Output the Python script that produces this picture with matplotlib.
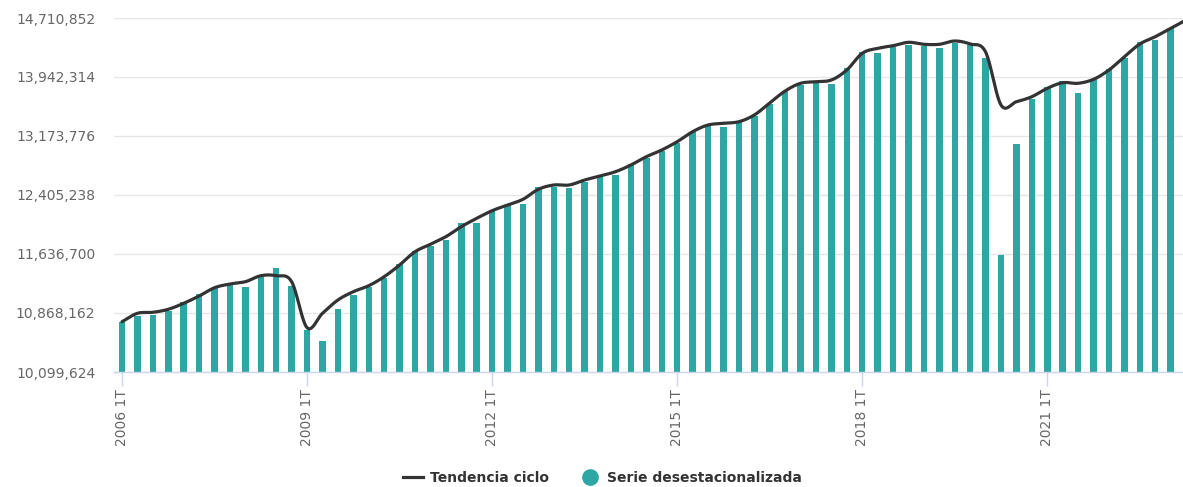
import numpy as np
import matplotlib
matplotlib.use("Agg")
import matplotlib.pyplot as plt
from matplotlib.lines import Line2D
from matplotlib.ticker import FixedLocator, FuncFormatter

# Categories: quarters 2006 1T .. 2023 1T
quarters = [f"{y} {q}T" for y in range(2006, 2024) for q in range(1, 5)][:69]

# Serie desestacionalizada (bars)
serie = [
    10755000, 10829000, 10842000, 10898000, 11007500, 11112000, 11197700, 11242000,
    11210750, 11333200, 11450400, 11223800, 10653200, 10499500, 10913800, 11102600,
    11210750, 11328000, 11502500, 11675800, 11744800, 11819000, 12044400, 12044400,
    12209850, 12275000, 12288000, 12505500, 12513400, 12492500, 12578500, 12635800,
    12665800, 12805100, 12891100, 12982300, 13086500, 13222000, 13317000, 13294900,
    13360000, 13434300, 13591600, 13763900, 13834200, 13860300, 13851100, 14055700,
    14264100, 14251000, 14337000, 14359200, 14350000, 14324000, 14381300, 14355300,
    14196300, 11623700, 13069600, 13655700, 13808200, 13890200, 13730000, 13916300,
    14042600, 14193700, 14402100, 14424300, 14576700,
]

# Tendencia ciclo (line)
tendencia = [
    10754800, 10864300, 10877300, 10916400, 10994500, 11089600, 11197700, 11245900,
    11275900, 11354000, 11354000, 11275900, 10676700, 10864300, 11037500, 11145600,
    11223800, 11341000, 11493400, 11666700, 11763100, 11862100, 11992300, 12101700,
    12200700, 12275000, 12349200, 12479500, 12535500, 12535500, 12600600, 12652700,
    12708800, 12796000, 12904100, 12991400, 13099500, 13229800, 13317000, 13339200,
    13360000, 13447300, 13603600, 13760000, 13860300, 13881100, 13903200, 14033500,
    14251000, 14316200, 14350000, 14394300, 14368300, 14368300, 14411300, 14372200,
    14268000, 13577600, 13620600, 13685700, 13795100, 13868100, 13860300, 13912400,
    14033500, 14206800, 14372200, 14467300, 14576700, 14684800,
]

y_ticks = [10099624, 10868162, 11636700, 12405238, 13173776, 13942314, 14710852]
x_tick_labels = ["2006 1T", "2009 1T", "2012 1T", "2015 1T", "2018 1T", "2021 1T"]

bar_color = "#2ea6a3"
line_color = "#333333"
grid_color = "#e6e6e6"
axis_color = "#ccd6eb"
label_color = "#666666"

W, H = 1183, 487
fig = plt.figure(figsize=(W / 100, H / 100), dpi=100)
left_px, right_px, top_px, bottom_px = 114.3, 1183, 18, 372
ax = fig.add_axes([left_px / W, 1 - bottom_px / H, (right_px - left_px) / W, (bottom_px - top_px) / H])

x_bars = np.arange(len(serie))
ax.bar(x_bars, serie, width=0.42, color=bar_color, zorder=2)

# smooth (spline-like) rendering of the trend line: Catmull-Rom
def catmull_rom(x, y, n=20):
    x = np.asarray(x, float); y = np.asarray(y, float)
    xp = np.concatenate([[2 * x[0] - x[1]], x, [2 * x[-1] - x[-2]]])
    yp = np.concatenate([[2 * y[0] - y[1]], y, [2 * y[-1] - y[-2]]])
    xs, ys = [], []
    t = np.linspace(0, 1, n, endpoint=False)
    for i in range(1, len(xp) - 2):
        def cr(a0, a1, a2, a3):
            return 0.5 * ((2 * a1) + (-a0 + a2) * t + (2 * a0 - 5 * a1 + 4 * a2 - a3) * t ** 2
                          + (-a0 + 3 * a1 - 3 * a2 + a3) * t ** 3)
        xs.append(cr(xp[i - 1], xp[i], xp[i + 1], xp[i + 2]))
        ys.append(cr(yp[i - 1], yp[i], yp[i + 1], yp[i + 2]))
    xs.append([x[-1]]); ys.append([y[-1]])
    return np.concatenate(xs), np.concatenate(ys)

xs, ys = catmull_rom(np.arange(len(tendencia)), tendencia)
ax.plot(xs, ys, color=line_color, lw=2.3, zorder=3, solid_capstyle="round")

ax.set_xlim(-0.5, 68.8)
ax.set_ylim(y_ticks[0], y_ticks[-1])

ax.yaxis.set_major_locator(FixedLocator(y_ticks))
ax.yaxis.set_major_formatter(FuncFormatter(lambda v, p: f"{int(round(v)):,}"))
ax.grid(axis="y", color=grid_color, lw=1, zorder=0)
ax.set_axisbelow(True)
ax.tick_params(axis="y", length=0, pad=13.7, labelsize=10, labelcolor=label_color)

tick_pos = [quarters.index(l) for l in x_tick_labels]
ax.set_xticks(tick_pos)
ax.set_xticklabels(x_tick_labels, rotation=90, fontsize=10, color=label_color)
ax.tick_params(axis="x", length=10, width=1, color=axis_color, pad=2)

for s in ["top", "right", "left"]:
    ax.spines[s].set_visible(False)
ax.spines["bottom"].set_color(axis_color)
ax.spines["bottom"].set_linewidth(1)

handles = [
    Line2D([0], [0], color=line_color, lw=2.3),
    Line2D([0], [0], marker="o", color="none", markerfacecolor=bar_color,
           markeredgecolor=bar_color, markersize=11),
]
leg = fig.legend(handles, ["Tendencia ciclo", "Serie desestacionalizada"],
                 loc="center", bbox_to_anchor=(0.5 + 11 / W, 1 - 478 / H), ncol=2, frameon=False,
                 handlelength=1.4, handletextpad=0.55, columnspacing=2.2,
                 prop={"weight": "bold", "size": 10})
for t in leg.get_texts():
    t.set_color("#333333")

fig.savefig("out.png", dpi=100)
